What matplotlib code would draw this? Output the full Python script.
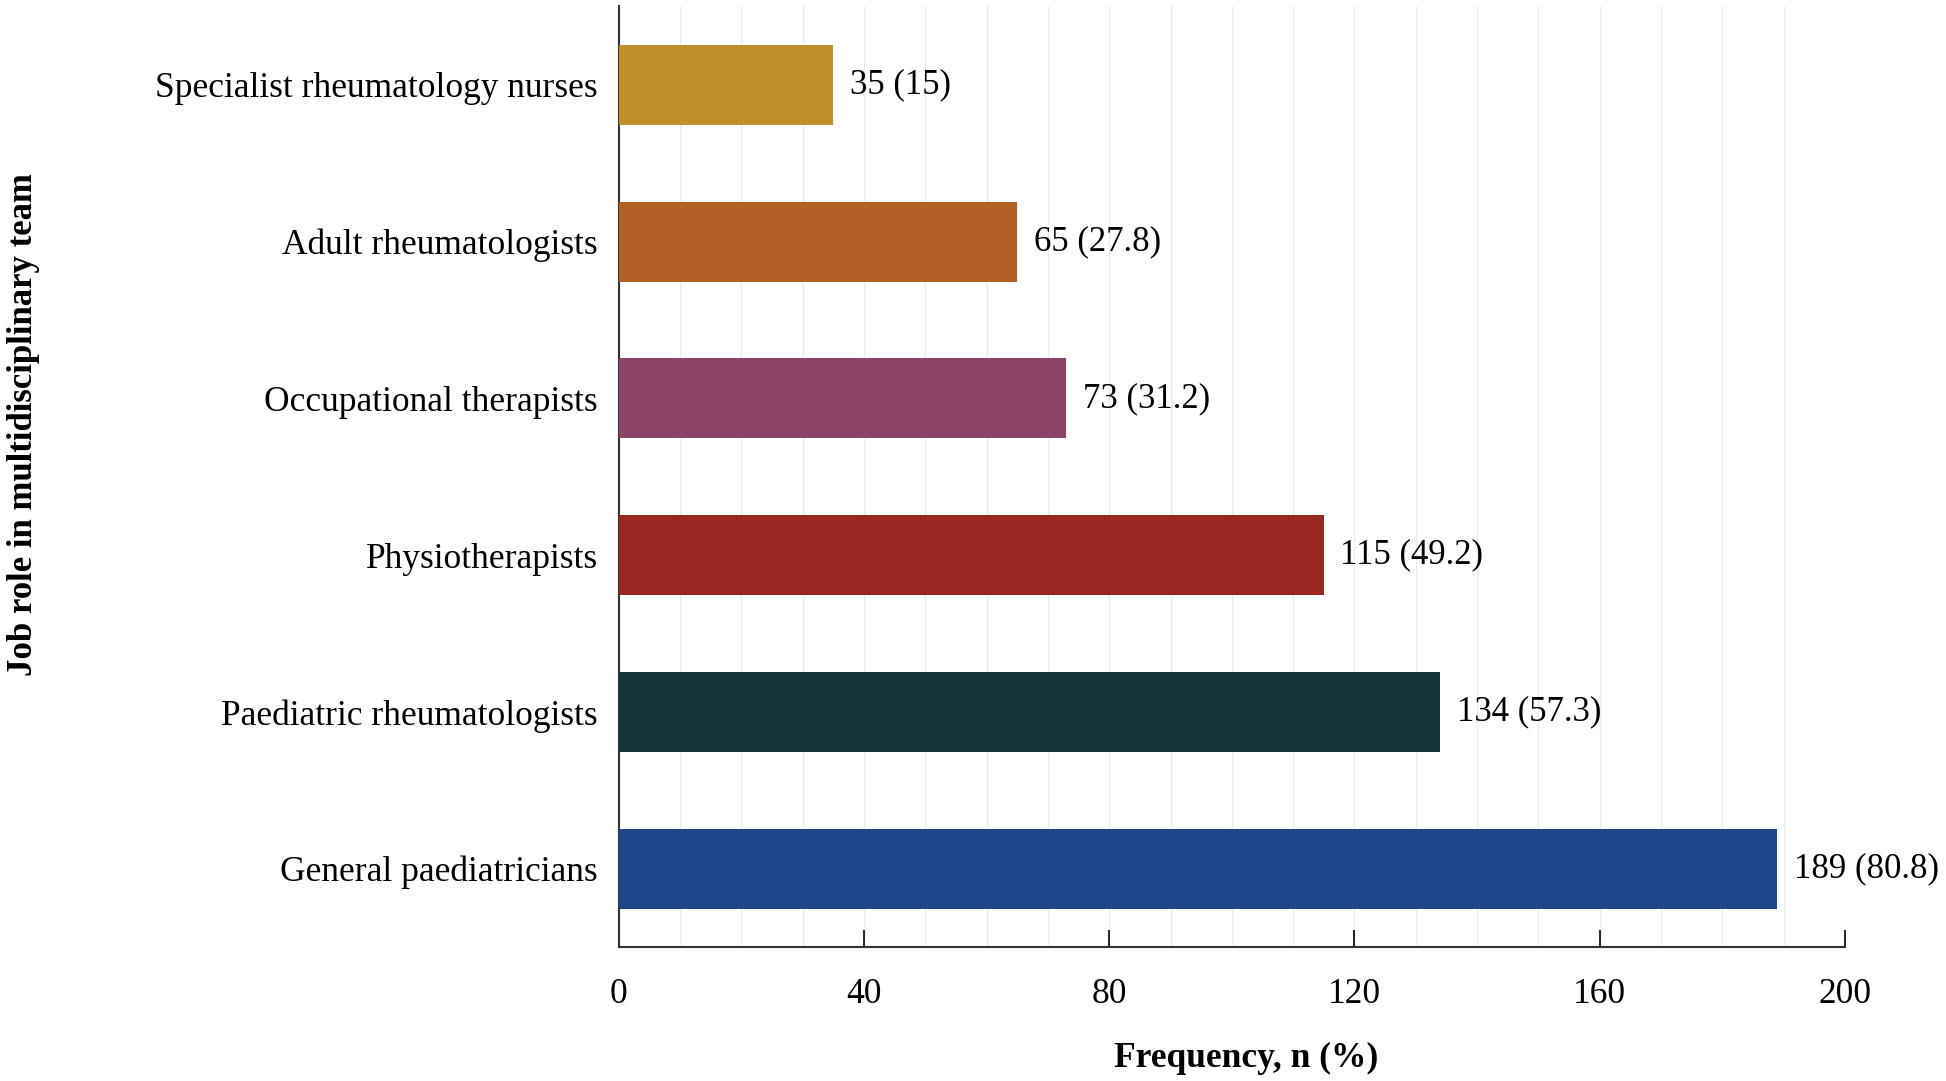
import matplotlib.pyplot as plt
import numpy as np

roles = ['General paediatricians', 'Paediatric rheumatologists', 'Physiotherapists',
         'Occupational therapists', 'Adult rheumatologists', 'Specialist rheumatology nurses']
counts = [189, 134, 115, 73, 65, 35]
percents = ['80.8', '57.3', '49.2', '31.2', '27.8', '15']
colors = ['#1F4589', '#16343C', '#99271F', '#8D4469', '#B35E24', '#BF8F2A']

plt.rcParams['font.family'] = ['Liberation Serif', 'DejaVu Serif']

fig, ax = plt.subplots(figsize=(19.46, 10.81), dpi=100)
fig.subplots_adjust(left=0.318, right=0.948, top=0.994, bottom=0.124)

y = np.arange(len(roles))
bars = ax.barh(y, counts, height=0.51, color=colors, zorder=3)
ax.bar_label(bars, labels=[f'{c} ({p})' for c, p in zip(counts, percents)],
             padding=12, fontsize=25)

ax.set(xlim=(0, 200), ylim=(-0.5, 5.5), yticks=y, xticks=np.arange(0, 201, 40))
ax.set_yticklabels(roles, fontsize=25.5)
ax.set_xticks(np.arange(0, 201, 10), minor=True)
ax.tick_params(axis='x', labelsize=25.5, direction='in', length=12, pad=22, width=1.2)
ax.tick_params(axis='x', which='minor', length=0)
ax.tick_params(axis='y', length=0, pad=15)
ax.grid(axis='x', which='both', color='#ebebeb', linewidth=1, zorder=0)

for s in ['top', 'right']:
    ax.spines[s].set_visible(False)
for s in ['left', 'bottom']:
    ax.spines[s].set_color('#333333')
    ax.spines[s].set_linewidth(1.5)

ax.set_xlabel('Frequency, n (%)', fontsize=25.5, fontweight='bold')
ax.xaxis.set_label_coords(0.512, -0.119)
ax.xaxis.label.set_va('center')
ax.set_ylabel('Job role in multidisciplinary team', fontsize=25, fontweight='bold')
ax.yaxis.set_label_coords(-0.472, 0.555)

fig.savefig('out.png')
